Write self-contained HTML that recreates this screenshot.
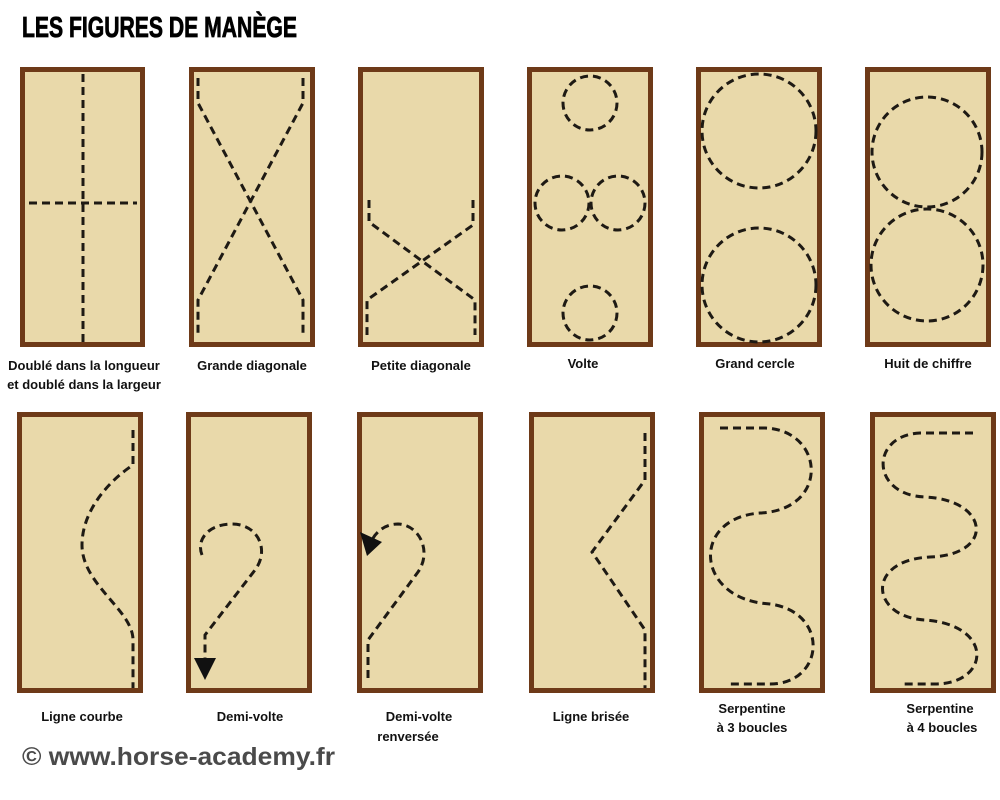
<!DOCTYPE html>
<html><head><meta charset="utf-8"><style>
html,body{margin:0;padding:0;background:#fff;width:1000px;height:800px;overflow:hidden}
svg{display:block}
.p{fill:#e9d9aa;stroke:#6e3a18;stroke-width:5}
.d{fill:none;stroke:#1e1a14;stroke-width:3;stroke-dasharray:8 5}
.l{font-family:"Liberation Sans",sans-serif;font-weight:bold;font-size:13px;fill:#111;text-anchor:middle}
</style></head><body>
<svg width="1000" height="800" viewBox="0 0 1000 800">
<text x="22" y="37" font-family="Liberation Sans Narrow,Liberation Sans,sans-serif" font-weight="bold" font-size="29" textLength="275" lengthAdjust="spacingAndGlyphs" fill="#000" stroke="#000" stroke-width="0.8">LES FIGURES DE MANÈGE</text>
<rect class="p" x="22.5" y="69.5" width="120" height="275"/>
<rect class="p" x="191.5" y="69.5" width="121" height="275"/>
<rect class="p" x="360.5" y="69.5" width="121" height="275"/>
<rect class="p" x="529.5" y="69.5" width="121" height="275"/>
<rect class="p" x="698.5" y="69.5" width="121" height="275"/>
<rect class="p" x="867.5" y="69.5" width="121" height="275"/>
<rect class="p" x="19.5" y="414.5" width="121" height="276"/>
<rect class="p" x="188.5" y="414.5" width="121" height="276"/>
<rect class="p" x="359.5" y="414.5" width="121" height="276"/>
<rect class="p" x="531.5" y="414.5" width="121" height="276"/>
<rect class="p" x="701.5" y="414.5" width="121" height="276"/>
<rect class="p" x="872.5" y="414.5" width="121" height="276"/>
<!-- top figures -->
<path class="d" d="M83 74V342M29 203H137"/>
<path class="d" d="M198 78V103L303 300V335M303 78V103L198 300V335"/>
<path class="d" d="M369 200V222L475 300V335M473 200V225L367 300V335"/>
<circle class="d" cx="590" cy="103" r="27"/><circle class="d" cx="562" cy="203" r="27"/>
<circle class="d" cx="618" cy="203" r="27"/><circle class="d" cx="590" cy="313" r="27"/>
<circle class="d" cx="759" cy="131" r="57"/><circle class="d" cx="759" cy="285" r="57"/>
<circle class="d" cx="927" cy="152" r="55"/><circle class="d" cx="927" cy="265" r="56"/>
<!-- bottom figures -->
<path class="d" d="M133 430V465C110 480 82 510 82 545C82 585 133 610 133 640V688"/>
<path class="d" d="M202 555C196 540 208 524 232 524C258 524 270 550 255 570L205 635V660"/>
<polygon points="194,658 216,658 205,680" fill="#111"/>
<path class="d" d="M368 678V640L418 572C432 552 420 525 398 524C385 524 376 532 372 540"/>
<polygon points="360,532 382,542 367,556" fill="#111"/>
<path class="d" d="M645 433V480L592 552L645 630V688"/>
<path class="d" d="M720 428H765C825 430 830 510 760 513C690 518 695 600 770 604C830 612 825 684 770 684H728"/>
<path class="d" d="M973 433H920C870 435 870 495 925 497C990 500 995 555 930 557C865 560 870 617 925 620C995 625 990 684 935 684H902"/>
<!-- labels -->
<text class="l" x="84" y="370">Doublé dans la longueur</text>
<text class="l" x="84" y="389">et doublé dans la largeur</text>
<text class="l" x="252" y="370">Grande diagonale</text>
<text class="l" x="421" y="370">Petite diagonale</text>
<text class="l" x="583" y="368">Volte</text>
<text class="l" x="755" y="368">Grand cercle</text>
<text class="l" x="928" y="368">Huit de chiffre</text>
<text class="l" x="82" y="721">Ligne courbe</text>
<text class="l" x="250" y="721">Demi-volte</text>
<text class="l" x="419" y="721">Demi-volte</text>
<text class="l" x="408" y="741">renversée</text>
<text class="l" x="591" y="721">Ligne brisée</text>
<text class="l" x="752" y="713">Serpentine</text>
<text class="l" x="752" y="732">à 3 boucles</text>
<text class="l" x="940" y="713">Serpentine</text>
<text class="l" x="942" y="732">à 4 boucles</text>
<text x="22" y="765" font-family="Liberation Sans,sans-serif" font-weight="bold" font-size="25" textLength="313" lengthAdjust="spacingAndGlyphs" fill="#4a4a4a">© www.horse-academy.fr</text>
</svg>
</body></html>
